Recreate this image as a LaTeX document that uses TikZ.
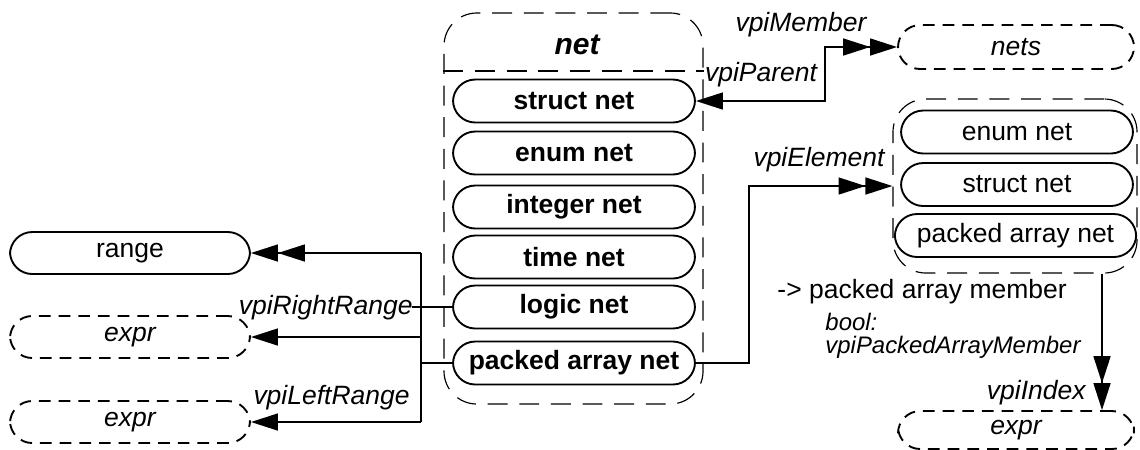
\documentclass[tikz,border=0pt]{standalone}
\usepackage{fontspec}
\setmainfont{Liberation Sans}
\usetikzlibrary{arrows.meta, positioning}

\tikzset{
  obj/.style={draw, line width=0.8pt, rounded corners=9.5pt, inner sep=0pt,
    minimum width=3.63cm, minimum height=0.645cm, font=\fontsize{11.3}{13}\selectfont},
  bobj/.style={obj, font=\fontsize{11.3}{13}\selectfont\bfseries},
  dobj/.style={obj, dash pattern=on 5pt off 3.4pt, font=\fontsize{11.3}{13}\selectfont\itshape},
  grp/.style={draw, line width=0.5pt, rounded corners=14pt, dash pattern=on 8.5pt off 5pt, inner sep=0pt},
  rel/.style={font=\fontsize{11.3}{13}\selectfont\itshape, inner sep=0pt},
  conn/.style={line width=0.8pt},
  tip/.style={Triangle[length=11.5pt, width=7.2pt]},
  one/.style={conn, -{Triangle[length=11.5pt, width=7.2pt]}},
  two/.style={conn, -{Triangle[length=11.5pt, width=7.2pt]Triangle[length=11.5pt, width=7.2pt]}}
}

\begin{document}
\begin{tikzpicture}[x=0.015cm, y=-0.015cm]
  \useasboundingbox (0,0) rectangle (1140,449);

  % net group
  \node[grp, minimum width=3.885cm, minimum height=5.865cm] (netgrp) at (573.5,208.5) {};
  \draw[grp] (netgrp.west |- 0,71) -- (netgrp.east |- 0,71);
  \node[font=\fontsize{12.8}{14}\selectfont\bfseries\itshape] (nethdr) at (577,45) {net};
  \node[bobj] (struct) at (574,101) {struct net};
  \node[bobj] (enum) at (574,153) {enum net};
  \node[bobj] (integer) at (574,207) {integer net};
  \node[bobj] (time) at (574,257) {time net};
  \node[bobj] (logic) at (574,307) {logic net};
  \node[bobj] (packed) at (574,363) {packed array net};

  % left side
  \node[obj, minimum width=3.6cm, minimum height=0.63cm] (range) at (130,253) {range};
  \node[dobj, minimum width=3.6cm, minimum height=0.63cm] (rexpr) at (130,337) {expr};
  \node[dobj, minimum width=3.6cm, minimum height=0.63cm] (lexpr) at (130,422) {expr};

  % right side
  \node[dobj, minimum width=3.54cm, minimum height=0.66cm] (nets) at (1016,47) {nets};
  \node[grp, minimum width=3.66cm, minimum height=2.61cm] (elgrp) at (1015,186) {};
  \node[obj, minimum width=3.48cm] (enum2) at (1017,132) {enum net};
  \node[obj, minimum width=3.48cm] (struct2) at (1017,184.5) {struct net};
  \node[obj, minimum width=3.62cm] (packed2) at (1015.5,235.5) {packed array net};
  \node[dobj, minimum width=3.54cm, minimum height=0.57cm] (iexpr) at (1016,430) {expr};

  % ranges
  \coordinate (busTop) at (421,253);
  \coordinate (busBot) at (421,422);
  \draw[conn] (busTop) -- (busBot);
  \draw[conn] (logic.west) -- ([xshift=-4pt]logic.west -| busTop);
  \draw[conn] (packed.west) -- (packed.west -| busTop);
  \draw[two] (busTop) -- (range.east);
  \draw[one] (busTop |- rexpr.east) -- (rexpr.east);
  \draw[one] (busBot) -- (lexpr.east);
  \node[rel, anchor=east] (rrlbl) at (413,308) {vpiRightRange};
  \node[rel, anchor=east] (lrlbl) at (410,398) {vpiLeftRange};

  % member / parent
  \coordinate (mbr) at (825,47);
  \draw[conn, {Triangle[length=11.5pt, width=7.2pt]}-{Triangle[length=11.5pt, width=7.2pt]Triangle[length=11.5pt, width=7.2pt]}]
    (struct.east) -| (mbr) -- (nets.west);
  \node[rel] (mbrlbl) at (801,25) {vpiMember};
  \node[rel] (parlbl) at (761,75) {vpiParent};

  % element
  \coordinate (elm) at (749,186);
  \draw[two] (packed.east) -| (elm) -- (elgrp.west);
  \node[rel] (elmlbl) at (819,160) {vpiElement};
  \node[anchor=west, inner sep=0pt, font=\fontsize{11.3}{13}\selectfont] (pam) at (777,292) {-> packed array member};
  \node[anchor=west, align=left, inner sep=0pt, font=\fontsize{10.2}{9.8}\selectfont\itshape] (pamb) at (825,335.5) {bool:\\vpiPackedArrayMember};

  % index
  \draw[two] (elgrp.south -| 1102,0) -- (iexpr.north -| 1102,0);
  \node[rel, anchor=east] (idxlbl) at (1086,393) {vpiIndex};
\end{tikzpicture}
\end{document}
